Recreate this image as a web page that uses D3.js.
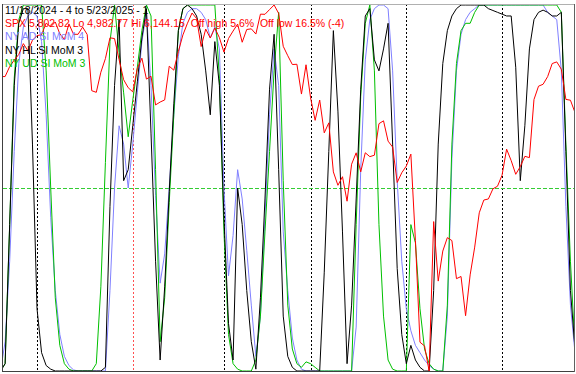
<!DOCTYPE html>
<html>
<head>
<meta charset="utf-8">
<script src="https://cdn.jsdelivr.net/npm/d3@7"></script>
<style>
  body { margin: 0; background: #fff; }
  text { font-family: "Liberation Sans", Arial, sans-serif; font-size: 10.5px; white-space: pre; }
</style>
</head>
<body>
<div class="canvas"></div>
<script>
// trading days 11/18/2024 .. 5/23/2025, index based
const monthStarts = [9, 30, 50, 69, 90, 111]   // Dec, Jan, Feb, Mar, Apr, May
const yearStart = 30

const spx = [
  5893.62, 5916.98, 5917.11, 5948.71, 5969.34, 5987.37, 6021.63, 5998.74, 6032.38,
  6047.15, 6049.88, 6086.49, 6075.11, 6090.27, 6052.85, 6034.91, 6084.19, 6051.25, 6051.09,
  6074.08, 6050.61, 5872.16, 5867.08, 5930.85, 5974.07, 6040.04, 6037.59, 5970.84, 5906.94, 5881.63,
  5868.55, 5942.47, 5975.38, 5909.03, 5918.25, 5827.04, 5836.22, 5842.91, 5949.91, 5937.34,
  5996.66, 6049.24, 6086.37, 6118.71, 6101.24, 6012.28, 6067.70, 6039.31, 6071.17, 6040.53,
  5994.57, 6037.88, 6061.48, 6083.57, 6025.99, 6066.44, 6068.50, 6051.97, 6115.07, 6114.63,
  6129.58, 6144.15, 6117.52, 6013.13, 5983.25, 5955.25, 5956.06, 5861.57, 5954.50,
  5849.72, 5778.15, 5842.63, 5738.52, 5770.20, 5614.56, 5572.07, 5599.30, 5521.52, 5638.94,
  5675.12, 5614.66, 5675.29, 5662.89, 5667.56, 5767.57, 5776.65, 5712.20, 5693.31, 5580.94, 5611.85,
  5633.07, 5670.97, 5396.52, 5074.08, 5062.25, 4982.77, 5456.90, 5268.05, 5363.36, 5405.97,
  5396.63, 5275.70, 5282.70, 5158.20, 5287.76, 5375.86, 5484.77, 5525.21, 5528.75, 5560.83, 5569.06,
  5604.14, 5686.67, 5650.38, 5606.91, 5631.28, 5663.94, 5659.91, 5844.19, 5886.55, 5892.58,
  5916.93, 5958.38, 5963.60, 5940.46, 5844.61, 5842.01, 5802.82
]

const adSI = [
  0, 0, 8, 30, 60, 84, 94, 97, 98, 97, 90, 70, 42, 22, 10, 4, 1.5, 0.3, 0, 0,
  0, 0, 0, 0, 0, 22, 50, 67, 62, 50, 62, 76, 90, 98, 78, 48, 24, 32, 50, 70,
  86, 95, 98, 99, 99, 98, 96, 91, 94, 88, 50, 26, 37, 55, 47, 33, 18, 4, 15, 42,
  70, 88, 78, 38, 22, 9, 3, 0.5, 0, 0, 0, 0, 0, 0, 0, 0, 0, 0, 0, 12,
  55, 85, 96, 99, 100, 100, 99, 82, 52, 30, 17, 11, 7, 5, 3, 1.5, 0.5, 0, 0, 15,
  58, 82, 92, 96, 98, 99, 100, 100, 100, 100, 100, 100, 100, 100, 100, 100, 100, 100, 100, 100,
  100, 98, 97, 96, 82, 45, 18, 5
]

const hlSI = [
  0, 0, 2, 40, 78, 95, 99, 99, 62, 17, 5, 1.5, 0.5, 0, 0, 0, 0, 0, 0, 0,
  0, 0, 0, 0, 1, 45, 78, 96, 52, 55, 67, 79, 91, 99, 65, 30, 3, 23, 49, 73,
  93, 99, 100, 99, 97, 92, 82, 70, 90, 78, 42, 13, 3, 50, 40, 22, 8, 0.5, 20, 47,
  77, 92, 55, 15, 4, 1, 0, 0, 0, 0, 0, 0, 27, 60, 93, 71, 38, 2, 18, 47,
  77, 97, 99, 85, 82, 88, 95, 62, 28, 10, 2, 7, 3, 1, 0, 0, 22, 62, 84, 93,
  97, 99, 100, 100, 100, 100, 100, 100, 99, 98.5, 98, 97.5, 97, 97, 83, 52, 67, 88, 96, 98,
  98.6, 98, 97, 97, 98, 60, 22, 6
]

const udSI = [
  0, 0, 2, 40, 80, 96, 100, 100, 100, 100, 100, 82, 50, 20, 7, 2, 0.5, 0, 0, 0,
  0, 0, 2, 23, 57, 90, 100, 87, 76, 64, 74, 83, 93, 100, 97, 55, 8, 20, 46, 70,
  93, 99, 100, 100, 100, 100, 100, 100, 100, 80, 38, 10, 2, 0.5, 0, 0, 0, 3, 15, 38,
  60, 82, 98, 52, 18, 6, 2, 1, 2.5, 2, 1, 0, 0, 0, 0, 0, 0, 0, 0, 40,
  75, 95, 100, 82, 40, 15, 3, 0.5, 0, 0, 0, 40, 35, 17, 6, 2, 0.5, 0, 0, 18,
  62, 84, 93, 95, 95, 98, 100, 100, 100, 100, 100, 100, 100, 100, 100, 100, 100, 100, 100, 100,
  100, 100, 100, 100, 98, 62, 30, 6
]

const titles = [
  { text: "11/18/2024 - 4 to 5/23/2025 - 1", color: "#000000" },
  { text: "SPX 5,802.82 Lo 4,982.77 Hi 6,144.15  Off high 5.6%  Off low 16.5% (-4)", color: "#ff0000" },
  { text: "NY AD SI MoM 4", color: "#8080ff" },
  { text: "NY HL SI MoM 3", color: "#000000" },
  { text: "NY UD SI MoM 3", color: "#00c000" }
]

const dim = { width: 576, height: 374 }
const plot = { left: 3, top: 5, right: 574, bottom: 371 }

const svg = d3.select(".canvas").append("svg")
  .attr("width", dim.width).attr("height", dim.height)

const x = d3.scaleLinear().domain([0, spx.length - 1]).range([-4, 575])
const y = d3.scaleLinear().domain([0, 100]).range([plot.bottom, plot.top])
const yPx = d3.scaleLinear().domain([d3.min(spx), d3.max(spx)]).range([plot.bottom, plot.top])

svg.append("clipPath").attr("id", "clip")
  .append("rect")
  .attr("x", plot.left).attr("y", plot.top - 1)
  .attr("width", plot.right - plot.left).attr("height", plot.bottom - plot.top + 1)

const graph = svg.append("g").attr("clip-path", "url(#clip)")

// month separators
graph.selectAll("line.month").data(monthStarts).enter()
  .append("line")
  .attr("class", "month")
  .attr("x1", d => Math.round(x(d)) + 0.5).attr("x2", d => Math.round(x(d)) + 0.5)
  .attr("y1", plot.top - 1).attr("y2", plot.bottom)
  .attr("stroke", d => d == yearStart ? "#ff5050" : "#000")
  .attr("stroke-width", 1)
  .attr("stroke-dasharray", "2,2")

// 50 line
graph.append("line")
  .attr("x1", plot.left).attr("x2", plot.right)
  .attr("y1", Math.round(y(50)) + 0.5).attr("y2", Math.round(y(50)) + 0.5)
  .attr("stroke", "#33cc33")
  .attr("stroke-dasharray", "4,2")

const osc = d3.line().x((d, i) => x(i)).y(d => y(d))
const priceLine = d3.line().x((d, i) => x(i)).y(d => yPx(d))

const series = [
  { values: adSI, color: "#8080ff" },
  { values: udSI, color: "#00c000" },
  { values: hlSI, color: "#000000" }
]

graph.selectAll("path.osc").data(series).enter()
  .append("path")
  .attr("class", "osc")
  .attr("d", d => osc(d.values))
  .attr("fill", "none")
  .attr("stroke", d => d.color)
  .attr("stroke-width", 1)

graph.append("path")
  .attr("d", priceLine(spx))
  .attr("fill", "none")
  .attr("stroke", "#ff0000")
  .attr("stroke-width", 1)

// frame
svg.append("line").attr("x1", 2).attr("x2", 575).attr("y1", 4.5).attr("y2", 4.5).attr("stroke", "#b0b0b0")
svg.append("line").attr("x1", 2.5).attr("x2", 2.5).attr("y1", 4).attr("y2", 372).attr("stroke", "#404040")
svg.append("line").attr("x1", 2).attr("x2", 575).attr("y1", 371.5).attr("y2", 371.5).attr("stroke", "#404040")
svg.append("line").attr("x1", 574.5).attr("x2", 574.5).attr("y1", 4).attr("y2", 372).attr("stroke", "#606060")

svg.selectAll("text.title").data(titles).enter()
  .append("text")
  .attr("class", "title")
  .attr("x", 5)
  .attr("y", (d, i) => 14 + i * 13.2)
  .attr("fill", d => d.color)
  .text(d => d.text)
</script>
</body>
</html>
